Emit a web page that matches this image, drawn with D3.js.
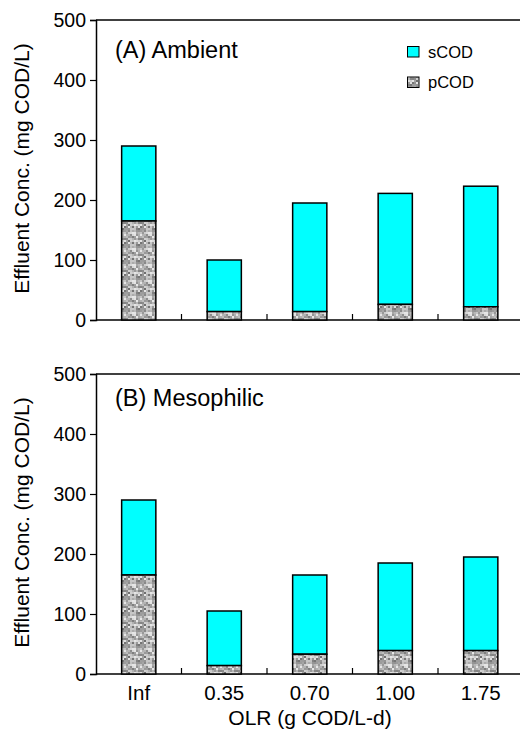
<!DOCTYPE html>
<html>
<head>
<meta charset="utf-8">
<script src="https://cdn.jsdelivr.net/npm/d3@7"></script>
<style>
  body { margin: 0; background: #fff; }
  text { font-family: "Liberation Sans", Arial, sans-serif; fill: #000; }
</style>
</head>
<body>
<div id="chart"></div>
<script>
(function () {

    // data
    const categories = ['Inf', '0.35', '0.70', '1.00', '1.75'];
    const ambientPCOD = [165, 14, 14, 26, 22];
    const ambientTotal = [290, 100, 195, 211, 223];
    const mesoPCOD = [165, 14, 33, 39, 39];
    const mesoTotal = [290, 105, 165, 185, 195];
    const yTicks = [0, 100, 200, 300, 400, 500];

    const width = 520, height = 731;

    const svg = d3.select('#chart')
        .append('svg')
        .attr('width', width)
        .attr('height', height);

    // speckled grey fill for pCOD
    const defs = svg.append('defs');
    const pat = defs.append('pattern')
        .attr('id', 'speckle')
        .attr('patternUnits', 'userSpaceOnUse')
        .attr('width', 16)
        .attr('height', 16);
    pat.append('rect').attr('width', 16).attr('height', 16).attr('fill', '#b4b4b4');
    let seed = 7;
    const rnd = () => { seed = (seed * 16807) % 2147483647; return seed / 2147483647; };
    for (let i = 0; i < 8; i++) {
        for (let j = 0; j < 8; j++) {
            const g = Math.round(110 + rnd() * 130);
            pat.append('rect')
                .attr('x', i * 2).attr('y', j * 2)
                .attr('width', 2).attr('height', 2)
                .attr('fill', `rgb(${g},${g},${g})`);
        }
    }

    const x = d3.scaleBand()
        .domain(categories)
        .range([96, 523.5])
        .paddingInner(0.6)
        .paddingOuter(0.3);

    function drawPanel(top, label, labelDy, pcod, total, showX) {
        const y = d3.scaleLinear().domain([0, 500]).range([top + 300, top]);
        const g = svg.append('g');

        // frame top line
        g.append('line')
            .attr('x1', 96).attr('x2', width)
            .attr('y1', top).attr('y2', top)
            .attr('stroke', '#000').attr('stroke-width', 1.5);

        // y axis
        const yAxis = g.append('g')
            .attr('transform', 'translate(96,0)')
            .call(d3.axisLeft(y).tickValues(yTicks).tickSize(6).tickPadding(4));
        yAxis.select('.domain').attr('stroke-width', 1.5);
        yAxis.selectAll('.tick line').attr('stroke-width', 1.2);
        yAxis.selectAll('text')
            .style('font-size', '19.5px')
            .style('font-family', '"Liberation Sans", Arial, sans-serif');

        // x axis line with ticks between categories
        g.append('line')
            .attr('x1', 96).attr('x2', width)
            .attr('y1', y(0)).attr('y2', y(0))
            .attr('stroke', '#000').attr('stroke-width', 1.5);
        const step = x.step();
        g.selectAll('.xtick')
            .data(categories.slice(1))
            .join('line')
            .attr('x1', d => x(d) - (step - x.bandwidth()) / 2)
            .attr('x2', d => x(d) - (step - x.bandwidth()) / 2)
            .attr('y1', y(0)).attr('y2', y(0) - 6)
            .attr('stroke', '#000').attr('stroke-width', 1.2);

        // sCOD part (top of stack)
        g.selectAll('.scod')
            .data(categories)
            .join('rect')
            .attr('x', d => x(d))
            .attr('width', x.bandwidth())
            .attr('y', (d, i) => y(total[i]))
            .attr('height', (d, i) => y(pcod[i]) - y(total[i]))
            .attr('fill', '#00ffff')
            .attr('stroke', '#000').attr('stroke-width', 1.5);

        // pCOD part
        g.selectAll('.pcod')
            .data(categories)
            .join('rect')
            .attr('x', d => x(d))
            .attr('width', x.bandwidth())
            .attr('y', (d, i) => y(pcod[i]))
            .attr('height', (d, i) => y(0) - y(pcod[i]))
            .attr('fill', 'url(#speckle)')
            .attr('stroke', '#000').attr('stroke-width', 1.5);

        g.append('text')
            .attr('x', 115).attr('y', top + labelDy)
            .style('font-size', '23.5px')
            .text(label);

        g.append('text')
            .attr('transform', `translate(28.5,${top + 148.5}) rotate(-90)`)
            .attr('text-anchor', 'middle')
            .style('font-size', '21px')
            .text('Effluent Conc. (mg COD/L)');

        if (showX) {
            g.selectAll('.xlab')
                .data(categories)
                .join('text')
                .attr('x', d => x(d) + x.bandwidth() / 2)
                .attr('y', y(0) + 26)
                .attr('text-anchor', 'middle')
                .style('font-size', '20.5px')
                .text(d => d);
            g.append('text')
                .attr('x', 310).attr('y', y(0) + 51)
                .attr('text-anchor', 'middle')
                .style('font-size', '21px')
                .text('OLR (g COD/L-d)');
        }
    }

    drawPanel(20, '(A) Ambient', 38, ambientPCOD, ambientTotal, false);
    drawPanel(374, '(B) Mesophilic', 32, mesoPCOD, mesoTotal, true);

    // legend
    const legend = svg.append('g');
    const items = [
        { name: 'sCOD', fill: '#00ffff' },
        { name: 'pCOD', fill: 'url(#speckle)' }
    ];
    legend.selectAll('rect')
        .data(items)
        .join('rect')
        .attr('x', 407.5).attr('y', (d, i) => 46.5 + i * 30.5)
        .attr('width', 11.5).attr('height', 10.5)
        .attr('fill', d => d.fill)
        .attr('stroke', '#000').attr('stroke-width', 1);
    legend.selectAll('text')
        .data(items)
        .join('text')
        .attr('x', 428).attr('y', (d, i) => 57.5 + i * 30.5)
        .style('font-size', '16.5px')
        .text(d => d.name);
})();
</script>
</body>
</html>
